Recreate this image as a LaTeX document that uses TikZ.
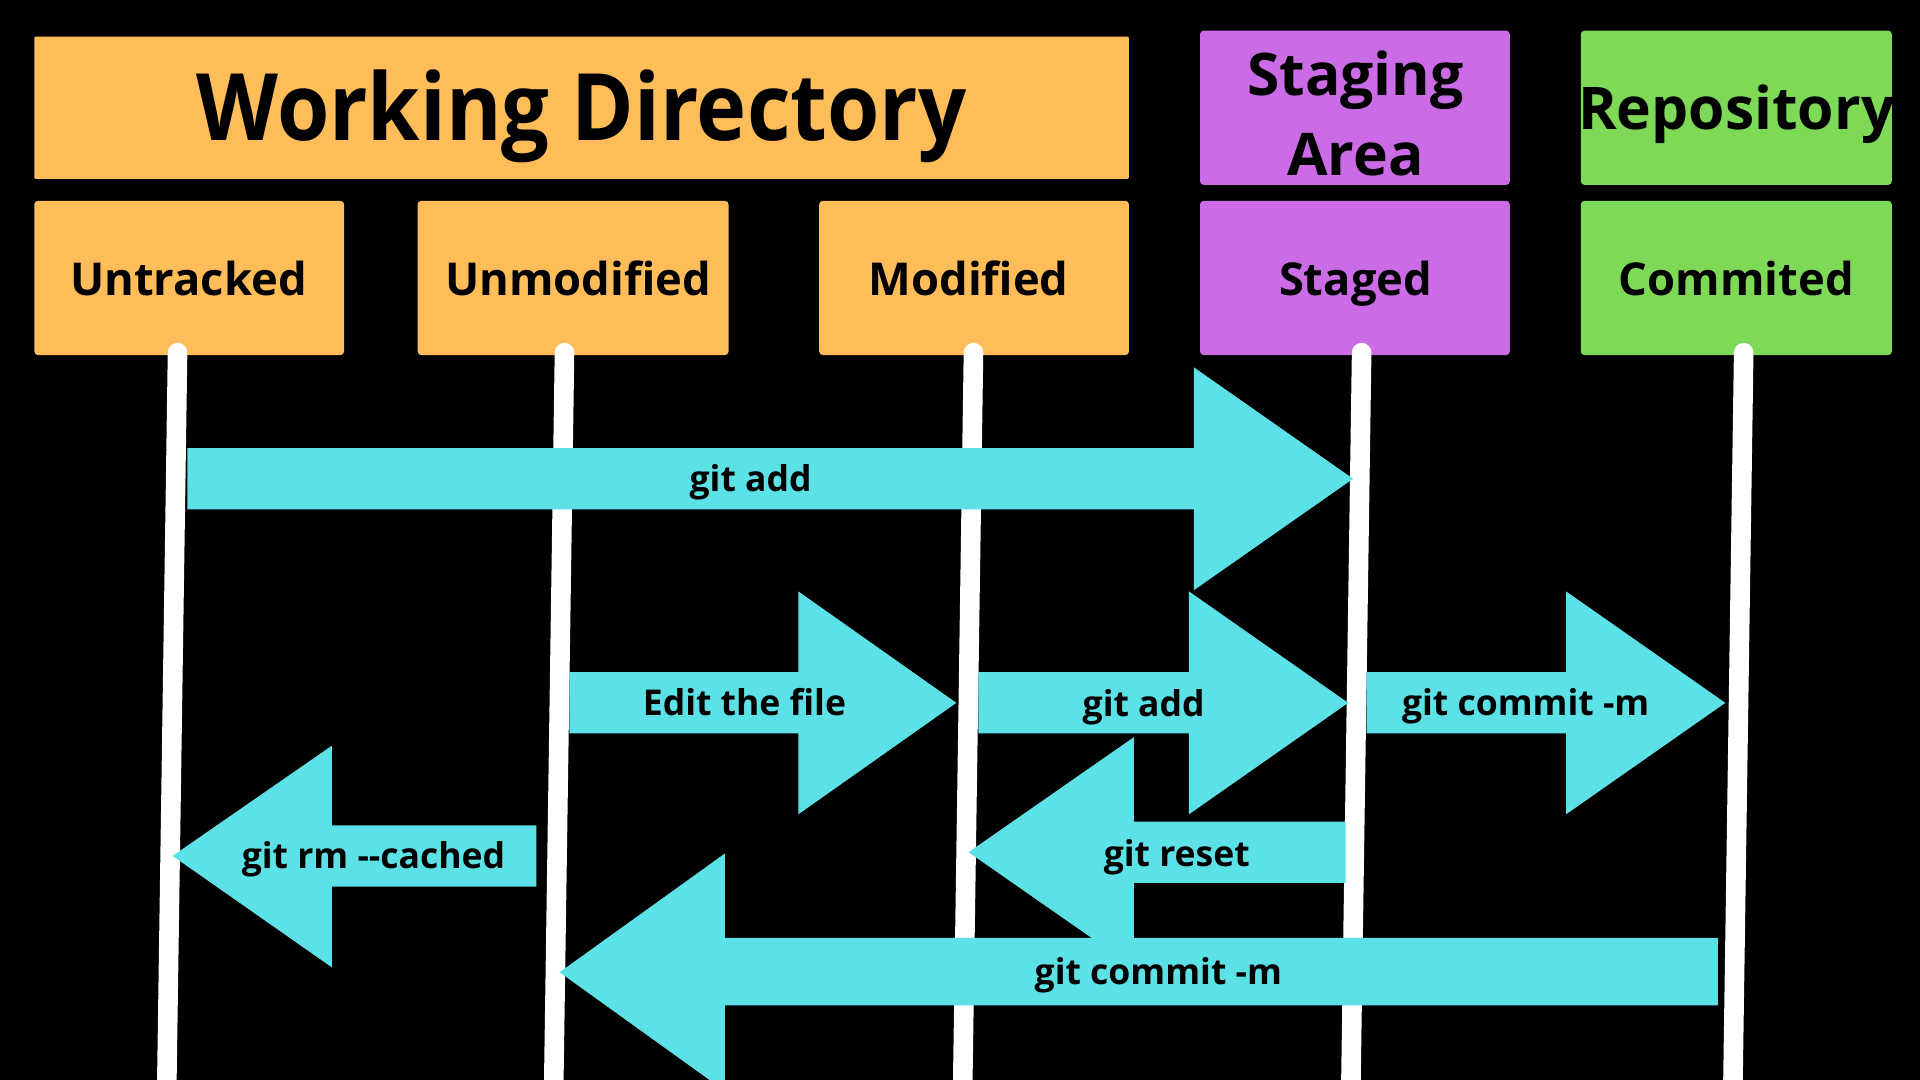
\documentclass[tikz,border=0pt]{standalone}
\usepackage{fontspec}
\setmainfont{Open Sans}
\newfontfamily\widefont[FakeStretch=0.91]{Open Sans}
\definecolor{wdorange}{HTML}{FFBD59}
\definecolor{stpurple}{HTML}{CB6CE6}
\definecolor{rpgreen}{HTML}{7ED957}
\definecolor{arcyan}{HTML}{5CE1E6}
\tikzset{
  box/.style={fill=#1, draw=none, rounded corners=3pt},
  title/.style={font=\fontsize{48}{56}\selectfont\bfseries, text=black, anchor=base, inner sep=0pt},
  bigtitle/.style={font=\widefont\fontsize{76}{90}\selectfont\bfseries, text=black, anchor=base, inner sep=0pt},
  state/.style={font=\fontsize{37}{44}\selectfont\bfseries, text=black, anchor=base, inner sep=0pt},
  lbl/.style={font=\fontsize{29}{34}\selectfont\bfseries, text=black, anchor=base, inner sep=0pt},
  life/.style={draw=white, line width=16pt, line cap=round},
  blockarrow/.style={fill=arcyan, draw=none}
}
\begin{document}
\begin{tikzpicture}[x=1pt,y=-1pt]
\fill[black] (0,0) rectangle (1568,882);
\useasboundingbox (0,0) rectangle (1568,882);
\clip (0,0) rectangle (1568,882);
% header boxes
\fill[box=wdorange, rounded corners=1pt] (28,30) rectangle (922,146);
\fill[box=stpurple] (980,25) rectangle (1233,151);
\fill[box=rpgreen] (1291,25) rectangle (1545,151);
\node[bigtitle] (wd) at (475,115) {Working Directory};
\node[title] (sa1) at (1107,78) {Staging};
\node[title] (sa2) at (1107,143) {Area};
\node[title] (repo) at (1418,106) {Repository};
% state boxes
\fill[box=wdorange] (28,164) rectangle (281,290);
\fill[box=wdorange] (341,164) rectangle (595,290);
\fill[box=wdorange] (669,164) rectangle (922,290);
\fill[box=stpurple] (980,164) rectangle (1233,290);
\fill[box=rpgreen] (1291,164) rectangle (1545,290);
\node[state] (untr) at (154,241) {Untracked};
\node[state] (unmod) at (472,241) {Unmodified};
\node[state] (mod) at (791,241) {Modified};
\node[state] (stg) at (1107,241) {Staged};
\node[state] (com) at (1418,241) {Commited};
% life lines
\coordinate (l1t) at (145,288); \coordinate (l1b) at (136,900);
\coordinate (l2t) at (461,288); \coordinate (l2b) at (452,900);
\coordinate (l3t) at (795,288); \coordinate (l3b) at (786,900);
\coordinate (l4t) at (1112,288); \coordinate (l4b) at (1103,900);
\coordinate (l5t) at (1424,288); \coordinate (l5b) at (1415,900);
\draw[life] (l1t) -- (l1b);
\draw[life] (l2t) -- (l2b);
\draw[life] (l3t) -- (l3b);
\draw[life] (l4t) -- (l4b);
\draw[life] (l5t) -- (l5b);
% arrows
\fill[blockarrow] (153,366) -- (975,366) -- (975,300) -- (1105,391) -- (975,482) -- (975,416) -- (153,416) -- cycle;
\fill[blockarrow] (465,549) -- (652,549) -- (652,483) -- (781,574) -- (652,665) -- (652,599) -- (465,599) -- cycle;
\fill[blockarrow] (799,549) -- (971,549) -- (971,483) -- (1101,574) -- (971,665) -- (971,599) -- (799,599) -- cycle;
\fill[blockarrow] (1116,549) -- (1279,549) -- (1279,483) -- (1409,574) -- (1279,665) -- (1279,599) -- (1116,599) -- cycle;
\fill[blockarrow] (438,674) -- (271,674) -- (271,609) -- (141,699) -- (271,790) -- (271,724) -- (438,724) -- cycle;
\fill[blockarrow] (1099,671) -- (926,671) -- (926,602) -- (791,696) -- (926,790) -- (926,721) -- (1099,721) -- cycle;
\fill[blockarrow] (1403,766) -- (592,766) -- (592,697) -- (457,794) -- (592,891) -- (592,821) -- (1403,821) -- cycle;
% labels
\node[lbl] (a1) at (613,401) {git add};
\node[lbl] (a2) at (608,584) {Edit the file};
\node[lbl] (a3) at (934,585) {git add};
\node[lbl] (a4) at (1246,584) {git commit -m};
\node[lbl] (a5) at (305,709) {git rm -{}-cached};
\node[lbl] (a6) at (961,708) {git reset};
\node[lbl] (a7) at (946,804) {git commit -m};
\end{tikzpicture}
\end{document}
